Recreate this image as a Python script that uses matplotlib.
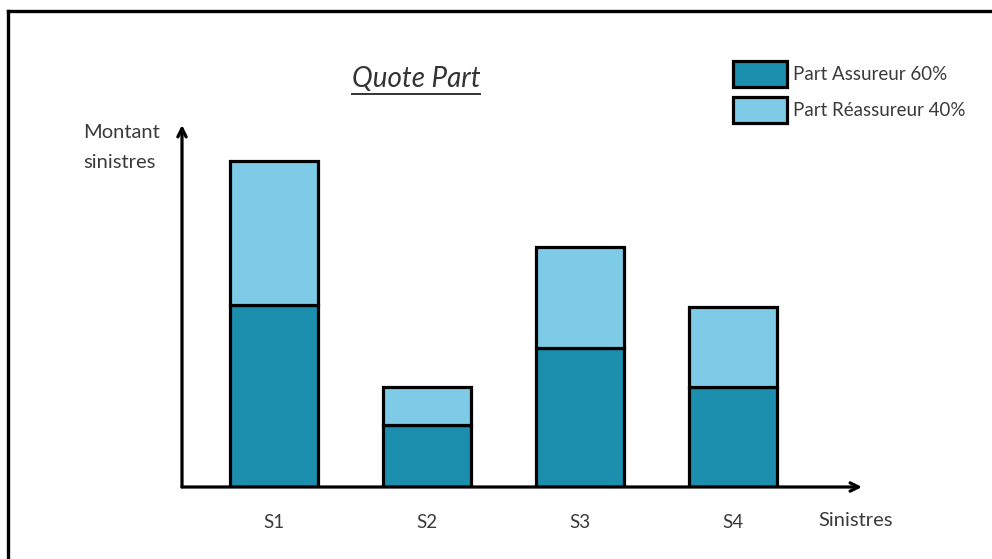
import matplotlib
matplotlib.use("Agg")
import matplotlib.pyplot as plt
import numpy as np
from matplotlib.lines import Line2D

categories = ["S1", "S2", "S3", "S4"]
part_assureur = [182, 62, 139, 100]
part_reassureur = [144, 38, 101, 80]
series_labels = ["Part Assureur 60%", "Part Réassureur 40%"]
title = "Quote Part"
y_label = "Montant\nsinistres"
x_label = "Sinistres"

W, H = 992, 559
fig = plt.figure(figsize=(W / 100, H / 100), dpi=100)
fig.patch.set_facecolor("white")

def fx(px):
    return px / W

def fy(py):
    return 1 - py / H

font = ["Lato", "DejaVu Sans"]
txt_color = "#3a3a3a"
dark = "#1B8FAD"
light = "#7DCBE7"
fs = 14.5

# axes: origin at (182, 487), arrow tips at x=862 and y=125
ax = fig.add_axes([fx(182), fy(487), fx(862 - 182), (487 - 125) / H])
ax.set_xlim(-0.601, 3.843)
ax.set_ylim(0, 362)
ax.axis("off")

x = np.arange(len(categories))
bw = 0.575
ax.bar(x, part_assureur, width=bw, color=dark, edgecolor="black", linewidth=2.3,
       label=series_labels[0], zorder=3)
ax.bar(x, part_reassureur, width=bw, bottom=part_assureur, color=light,
       edgecolor="black", linewidth=2.3, label=series_labels[1], zorder=3)

# axis arrows
for tip in [(0, 1), (1, 0)]:
    ax.annotate("", xy=tip, xytext=(0, 0), xycoords="axes fraction",
                arrowprops=dict(arrowstyle="->,head_length=0.6,head_width=0.3",
                                lw=2.3, color="black", shrinkA=0, shrinkB=0),
                zorder=5)

# category labels
for xi, c in zip(x, categories):
    ax.text(xi, -35, c, ha="center", va="center", fontsize=fs - 1, family=font,
            color=txt_color)

fig.text(fx(83), fy(124), y_label, ha="left", va="top", fontsize=fs, family=font,
         color=txt_color, linespacing=1.95)
fig.text(fx(818), fy(520), x_label, ha="left", va="center", fontsize=fs,
         family=font, color=txt_color)

# title with underline
t = fig.text(fx(416), fy(79), title, ha="center", va="center", fontsize=20,
             style="italic", family=font, color="#333333")
fig.canvas.draw()
bb = t.get_window_extent()
fig.add_artist(Line2D([bb.x0 / W, bb.x1 / W], [fy(94), fy(94)],
                      transform=fig.transFigure, color="#333333", lw=1.4))

# legend
leg = ax.legend(loc="upper left", bbox_to_anchor=(fx(718), fy(46)),
                bbox_transform=fig.transFigure, frameon=False,
                prop={"family": font, "size": 13.5}, handlelength=2.88,
                handleheight=1.75, labelspacing=0.55, handletextpad=0.3,
                borderpad=0.3)
for txt in leg.get_texts():
    txt.set_color(txt_color)

# outer frame (top and left visible)
fig.add_artist(Line2D([fx(8), 1], [fy(11), fy(11)], transform=fig.transFigure,
                      color="black", lw=2.4))
fig.add_artist(Line2D([fx(8), fx(8)], [fy(11), 0], transform=fig.transFigure,
                      color="black", lw=2.4))

fig.savefig("out.png", dpi=100, facecolor="white")
